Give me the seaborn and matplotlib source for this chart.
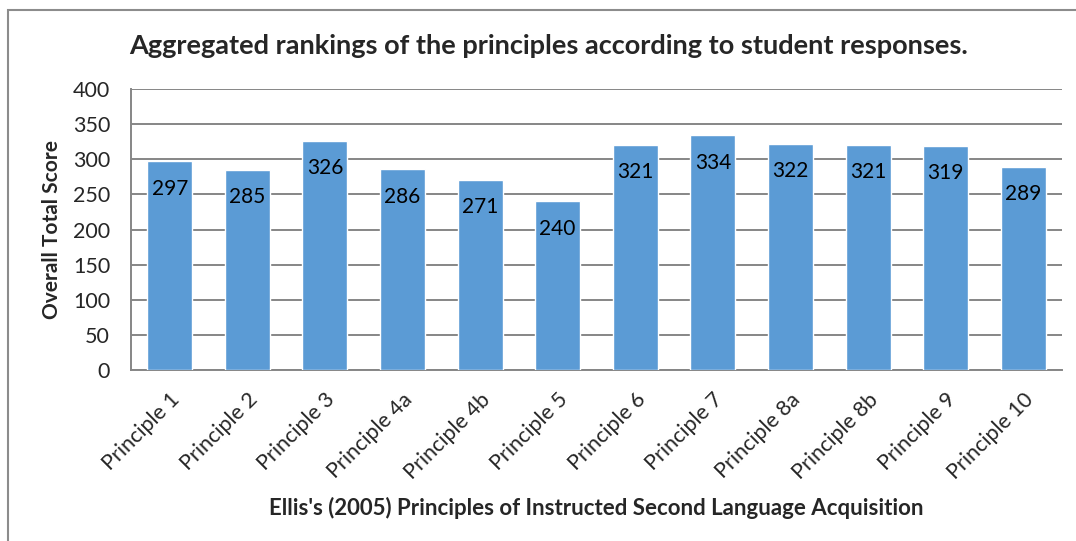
import matplotlib
matplotlib.use("Agg")
import matplotlib.pyplot as plt
import seaborn as sns
import pandas as pd
from matplotlib.patches import Rectangle

principles = ["Principle 1", "Principle 2", "Principle 3", "Principle 4a", "Principle 4b",
              "Principle 5", "Principle 6", "Principle 7", "Principle 8a", "Principle 8b",
              "Principle 9", "Principle 10"]
scores = [297, 285, 326, 286, 271, 240, 321, 334, 322, 321, 319, 289]
y_ticks = [0, 50, 100, 150, 200, 250, 300, 350, 400]

sns.set_style("white")
plt.rcParams['font.family'] = ['Lato', 'DejaVu Sans']

df = pd.DataFrame({"Principle": principles, "Score": scores})

fig = plt.figure(figsize=(10.76, 5.41), dpi=100)
ax = fig.add_axes([0.1217, 0.316, 0.987 - 0.1217, 0.8355 - 0.316])

sns.barplot(data=df, x="Principle", y="Score", color="#5B9BD5", width=0.58,
            saturation=1, ax=ax, zorder=3)

ax.bar_label(ax.containers[0], padding=-27, fontsize=15, color="black")

ax.set_ylim(0, 400)
ax.set_yticks(y_ticks)
ax.set_xlim(-0.5, len(principles) - 0.5)
ax.grid(axis="y", color="#868686", linewidth=1.4, zorder=0)
ax.set_axisbelow(True)
for side in ["top", "right"]:
    ax.spines[side].set_visible(False)
for side in ["left", "bottom"]:
    ax.spines[side].set_color("#868686")
    ax.spines[side].set_linewidth(1.4)

ax.tick_params(axis="y", length=0, labelsize=15.5, pad=15)
ax.tick_params(axis="x", length=0, labelsize=15.5, pad=14)
plt.setp(ax.get_xticklabels(), rotation=45, ha="right", rotation_mode="anchor")

ax.set_ylabel("Overall Total Score", fontsize=15, fontweight="bold", labelpad=8)
ax.set_xlabel("Ellis's (2005) Principles of Instructed Second Language Acquisition",
              fontsize=16, fontweight="bold", labelpad=10)
fig.text(0.51, 0.915, "Aggregated rankings of the principles according to student responses.",
         ha="center", va="center", fontsize=19.5, fontweight="bold")

fig.add_artist(Rectangle((0.0074, -0.1), 1.2, 0.9815 + 0.1, transform=fig.transFigure,
                         fill=False, edgecolor="#8c8c8c", linewidth=1.5, clip_on=False))

fig.savefig("out.png", dpi=100)
